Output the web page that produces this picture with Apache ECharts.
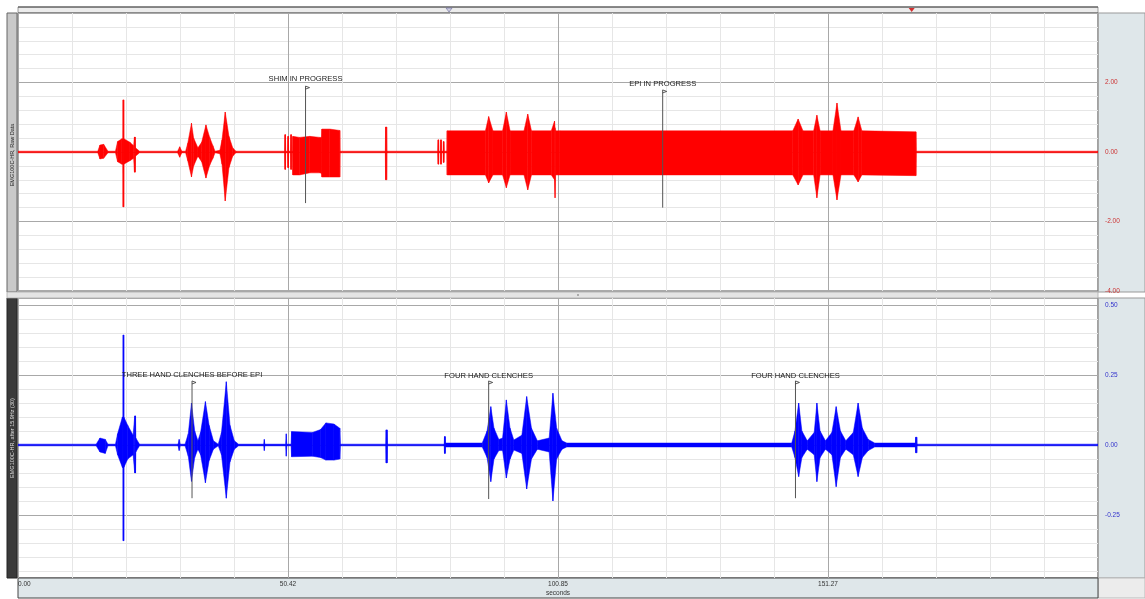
<!DOCTYPE html>
<html><head><meta charset="utf-8">
<script src="https://cdn.jsdelivr.net/npm/echarts@6/dist/echarts.min.js"></script>
<style>html,body{margin:0;padding:0;background:#fff}#c{width:1145px;height:599px}</style>
</head><body><div id="c"></div>
<script>
// ---------- DATA (seconds, envelope high, envelope low) ----------
const rawSamples = [
 [0,.02,-.02],[14.9,.02,-.02],[15.3,.2,-.2],[16.0,.22,-.18],[16.8,.02,-.02],
 [18.2,.02,-.02],[18.6,.3,-.28],[19.4,.38,-.35],[19.6,.38,-.35],[19.62,1.5,-1.58],[19.75,1.5,-1.58],[19.77,.38,-.35],
 [20.9,.28,-.25],[21.6,.18,-.18],[21.75,.43,-.58],[21.9,.43,-.58],[21.95,.12,-.12],[22.7,.02,-.02],
 [29.8,.02,-.02],[30.2,.15,-.15],[30.6,.02,-.02],
 [31.3,.02,-.02],[31.7,.25,-.25],[32.4,.83,-.72],[32.8,.4,-.4],[33.6,.12,-.12],
 [34.3,.28,-.28],[35.1,.78,-.75],[35.8,.42,-.38],[36.4,.18,-.18],[36.8,.02,-.02],
 [37.7,.05,-.05],[38.1,.35,-.35],[38.7,1.15,-1.41],[39.4,.45,-.45],[40.1,.12,-.12],[40.7,.02,-.02],
 [49.8,.02,-.02],[49.85,.5,-.5],[49.95,.5,-.5],[50.0,.02,-.02],[50.35,.02,-.02],[50.4,.45,-.45],[50.5,.45,-.45],[50.55,.02,-.02],
 [50.9,.02,-.02],[50.95,.5,-.5],[51.05,.5,-.5],[51.1,.02,-.02],[51.3,.02,-.02],
 [51.32,.45,-.66],[52.6,.42,-.66],[54.5,.45,-.6],[56.4,.42,-.6],[56.7,.42,-.62],[56.75,.66,-.72],[58.2,.66,-.72],[60.1,.62,-.72],[60.15,.02,-.02],
 [68.6,.02,-.02],[68.65,.72,-.8],[68.85,.72,-.8],[68.9,.02,-.02],
 [78.4,.02,-.02],[78.45,.35,-.35],[78.55,.35,-.35],[78.6,.02,-.02],[78.9,.02,-.02],[78.95,.35,-.35],[79.05,.35,-.35],[79.1,.02,-.02],
 [79.4,.02,-.02],[79.45,.3,-.3],[79.55,.3,-.3],[79.6,.02,-.02],[80.1,.02,-.02],
 [80.15,.61,-.66],[87.3,.61,-.66],[87.9,1.02,-.89],[88.7,.61,-.66],[90.5,.61,-.66],[91.2,1.15,-1.03],[91.9,.61,-.66],
 [94.5,.61,-.66],[95.2,1.09,-1.09],[95.9,.61,-.66],[99.6,.61,-.66],[100.2,.89,-.8],[100.3,.7,-1.32],[100.4,.61,-.66],
 [101.2,.61,-.66],[144.7,.61,-.66],[145.7,.95,-.95],[146.6,.61,-.66],[148.6,.61,-.66],[149.2,1.06,-1.32],[149.8,.61,-.66],
 [152.2,.61,-.66],[152.95,1.41,-1.38],[153.7,.61,-.66],[156.1,.61,-.66],[156.9,1.01,-.86],[157.6,.61,-.66],
 [167.7,.58,-.68],[167.75,.02,-.02],[201.7,.02,-.02]
];
const filtSamples = [
 [0,.003,-.003],[14.6,.003,-.003],[15.3,.025,-.025],[16.3,.02,-.03],[16.8,.003,-.003],
 [18.2,.003,-.003],[18.6,.04,-.035],[19.5,.1,-.08],[19.62,.1,-.08],[19.64,.393,-.342],[19.75,.393,-.342],[19.77,.1,-.08],
 [20.5,.07,-.05],[21.5,.035,-.035],[21.8,.104,-.1],[21.95,.104,-.1],[22.0,.025,-.025],[22.7,.003,-.003],
 [29.9,.003,-.003],[30.1,.02,-.02],[30.3,.003,-.003],
 [31.2,.003,-.003],[31.8,.04,-.04],[32.4,.15,-.13],[33.0,.05,-.045],[33.6,.015,-.015],
 [34.1,.045,-.035],[35.0,.155,-.135],[35.7,.07,-.055],[36.5,.015,-.015],[37.4,.003,-.003],
 [38.0,.045,-.035],[38.9,.226,-.19],[39.6,.07,-.06],[40.4,.015,-.015],[41.2,.003,-.003],
 [45.9,.003,-.003],[46.0,.02,-.02],[46.1,.003,-.003],[50.0,.003,-.003],[50.1,.04,-.04],[50.2,.003,-.003],
 [51.0,.003,-.003],[51.1,.048,-.042],[55.0,.045,-.04],[56.5,.055,-.045],[57.5,.079,-.054],[59.0,.075,-.054],[60.1,.06,-.05],[60.2,.003,-.003],
 [68.7,.003,-.003],[68.75,.054,-.064],[68.95,.054,-.064],[69.0,.003,-.003],
 [79.6,.003,-.003],[79.65,.03,-.03],[79.8,.03,-.03],[79.85,.007,-.007],
 [86.7,.007,-.007],[87.6,.05,-.045],[88.3,.137,-.131],[88.9,.06,-.05],[89.8,.02,-.02],
 [90.5,.025,-.02],[91.2,.161,-.118],[91.9,.06,-.05],[92.6,.018,-.018],
 [94.1,.035,-.03],[95.0,.173,-.157],[95.9,.06,-.05],[97.0,.015,-.015],
 [99.2,.025,-.025],[99.9,.185,-.2],[100.6,.06,-.05],[101.6,.015,-.015],[102.5,.007,-.007],
 [144.5,.007,-.007],[145.1,.05,-.045],[145.8,.15,-.113],[146.4,.05,-.045],[147.4,.015,-.015],
 [148.7,.045,-.035],[149.2,.15,-.131],[149.8,.05,-.045],[150.8,.015,-.015],
 [152.0,.045,-.035],[152.8,.137,-.149],[153.6,.05,-.045],[154.6,.015,-.015],
 [156.0,.045,-.035],[156.9,.15,-.113],[157.7,.06,-.045],[158.8,.02,-.02],[160.0,.007,-.007],
 [167.6,.007,-.007],[167.65,.028,-.028],[167.85,.028,-.028],[167.9,.003,-.003],[201.7,.003,-.003]
];
// annotations: time, text level, flag level, line end level
const topNoteT = [53.7, 120.4];
const topNoteText = ['SHIM IN PROGRESS', 'EPI IN PROGRESS'];
const topNoteTextY = [2.10, 1.96];
const topNoteFlagY = [1.81, 1.70];
const topNoteEndY = [-1.47, -1.60];
const botNoteT = [32.5, 87.9, 145.2];
const botNoteText = ['THREE HAND CLENCHES BEFORE EPI', 'FOUR HAND CLENCHES', 'FOUR HAND CLENCHES'];
const botNoteTextY = [0.25, 0.247, 0.247];
const botNoteFlagY = [0.218, 0.218, 0.218];
const botNoteEndY = [-0.19, -0.193, -0.19];
// event triangles on top strip
const eventT = [80.5, 166.9];
// ticks
const xTickValues = [0, 50.425, 100.85, 151.275];
const xTickLabels = ['0.00', '50.42', '100.85', '151.27'];
const topTickValues = [-4, -2, 0, 2];
const topTickLabels = ['-4.00', '-2.00', '0.00', '2.00'];
const botTickValues = [-0.25, 0, 0.25, 0.5];
const botTickLabels = ['-0.25', '0.00', '0.25', '0.50'];
const leftTitles = ['EMG100C-HR, Raw Data', 'EMG100C-HR, after 15.9Hz (30)'];

// ---------- CHART ----------
const FONT = 'Liberation Sans, Arial, sans-serif';
const chart = echarts.init(document.getElementById('c'), null, {renderer: 'canvas'});
const MAJ = '#a8a8a8', MIN = '#e6e6e6', T = 'rgba(0,0,0,0)';

function lookup(vals, labels, v) {
  for (let k = 0; k < vals.length; k++) if (Math.abs(vals[k] - v) < 1e-4) return labels[k];
  return '';
}
function envRender(samples, color) {
  return function (params, api) {
    const i = params.dataIndex;
    if (i >= samples.length - 1) return null;
    const s0 = samples[i], s1 = samples[i + 1];
    const a1 = api.coord([s0[0], s0[1]]), b1 = api.coord([s0[0], s0[2]]);
    const a2 = api.coord([s1[0], s1[1]]), b2 = api.coord([s1[0], s1[2]]);
    [[a1, b1], [a2, b2]].forEach(([a, b]) => {
      if (b[1] - a[1] < 1.6) { const m = (a[1] + b[1]) / 2; a[1] = m - 0.8; b[1] = m + 0.8; }
    });
    return {type: 'polygon', shape: {points: [a1, a2, b2, b1]},
      style: {fill: color, stroke: color, lineWidth: 0.5}};
  };
}
function noteRender(T_, txt, ty, fy, ey) {
  return function (params, api) {
    const i = params.dataIndex;
    const p = api.coord([T_[i], ty[i]]);
    const f = api.coord([T_[i], fy[i]]);
    const e = api.coord([T_[i], ey[i]]);
    return {type: 'group', children: [
      {type: 'text', x: p[0], y: p[1], style: {text: txt[i], font: '7.6px ' + FONT, fill: '#222', align: 'center', verticalAlign: 'middle'}},
      {type: 'line', shape: {x1: f[0], y1: f[1] - 3, x2: e[0], y2: e[1]}, style: {stroke: '#555', lineWidth: 1}},
      {type: 'polyline', shape: {points: [[f[0], f[1] - 3], [f[0] + 4, f[1] - 1.5], [f[0], f[1]]]}, style: {stroke: '#333', lineWidth: 0.8, fill: null}}
    ]};
  };
}
const xCommon = {
  type: 'value', min: 0, max: 201.7, interval: 10.085,
  axisLine: {show: false}, axisTick: {show: false},
  splitLine: {show: true, lineStyle: {color: [MAJ, MIN, MIN, MIN, MIN], width: 1}}
};
const option = {
  animation: false,
  backgroundColor: '#fff',
  textStyle: {fontFamily: FONT},
  grid: [
    {left: 18, right: 47, top: 13, height: 278, show: true, backgroundColor: '#fff', borderColor: '#555', borderWidth: 1},
    {left: 18, right: 47, top: 298, height: 280, show: true, backgroundColor: '#fff', borderColor: '#555', borderWidth: 1}
  ],
  xAxis: [
    Object.assign({gridIndex: 0, axisLabel: {show: false}}, xCommon),
    Object.assign({gridIndex: 1,
      name: 'seconds', nameLocation: 'middle', nameGap: 12,
      nameTextStyle: {fontSize: 6.5, color: '#333', fontFamily: FONT},
      axisLabel: {show: true, margin: 3, fontSize: 6.5, color: '#333', fontFamily: FONT,
        showMinLabel: true, showMaxLabel: true, alignMinLabel: 'left',
        formatter: v => lookup(xTickValues, xTickLabels, v)}}, xCommon)
  ],
  yAxis: [
    {type: 'value', gridIndex: 0, position: 'right', min: -4, max: 4, interval: 0.4,
      axisLine: {show: false}, axisTick: {show: false},
      axisLabel: {margin: 7, fontSize: 6.5, color: '#cc3333', align: 'left', fontFamily: FONT,
        showMinLabel: true, formatter: v => lookup(topTickValues, topTickLabels, v)},
      splitLine: {show: true, lineStyle: {color: [MAJ, MIN, MIN, MIN, MIN], width: 1}}},
    {type: 'value', gridIndex: 1, position: 'right', min: -0.475, max: 0.525, interval: 0.025,
      axisLine: {show: false}, axisTick: {show: false},
      axisLabel: {margin: 7, fontSize: 6.5, color: '#3333cc', align: 'left', fontFamily: FONT,
        formatter: v => lookup(botTickValues, botTickLabels, v)},
      splitLine: {show: true, lineStyle: {color: [T, MIN, T, MIN, T, MIN, T, MIN, T, MAJ], width: 1}}}
  ],
  series: [
    {type: 'custom', xAxisIndex: 0, yAxisIndex: 0, clip: true, z: 3,
      renderItem: envRender(rawSamples, '#ff0000'), data: rawSamples, encode: {x: 0, y: [1, 2]}},
    {type: 'custom', xAxisIndex: 1, yAxisIndex: 1, clip: true, z: 3,
      renderItem: envRender(filtSamples, '#0000ff'), data: filtSamples, encode: {x: 0, y: [1, 2]}},
    {type: 'custom', xAxisIndex: 0, yAxisIndex: 0, z: 5,
      renderItem: noteRender(topNoteT, topNoteText, topNoteTextY, topNoteFlagY, topNoteEndY),
      data: topNoteT.map((t, i) => [t, topNoteTextY[i]])},
    {type: 'custom', xAxisIndex: 1, yAxisIndex: 1, z: 5,
      renderItem: noteRender(botNoteT, botNoteText, botNoteTextY, botNoteFlagY, botNoteEndY),
      data: botNoteT.map((t, i) => [t, botNoteTextY[i]])},
    {type: 'scatter', xAxisIndex: 0, yAxisIndex: 0, clip: false, z: 6,
      symbol: 'triangle', symbolRotate: 180, symbolSize: [6, 4], symbolOffset: [0, -3],
      data: [
        {value: [eventT[0], 4], itemStyle: {color: '#c8c8e0', borderColor: '#7070a0', borderWidth: 0.8}},
        {value: [eventT[1], 4], itemStyle: {color: '#cc0000'}}
      ]}
  ],
  graphic: [
    {type: 'rect', z: -1, shape: {x: 18, y: 7, width: 1080, height: 6}, style: {fill: '#ececec', stroke: '#888', lineWidth: 0.8}},
    {type: 'line', z: 0, shape: {x1: 18, y1: 7, x2: 1098, y2: 7}, style: {stroke: '#444', lineWidth: 1}},
    {type: 'rect', z: 0, shape: {x: 7, y: 13, width: 10, height: 279}, style: {fill: '#c9c9c9', stroke: '#666', lineWidth: 1}},
    {type: 'rect', z: 0, shape: {x: 7, y: 298, width: 10, height: 280}, style: {fill: '#3a3a3a', stroke: '#222', lineWidth: 1}},
    {type: 'rect', z: 0, shape: {x: 1098, y: 13, width: 47, height: 279}, style: {fill: '#dfe7ea', stroke: '#999', lineWidth: 1}},
    {type: 'rect', z: 0, shape: {x: 1098, y: 298, width: 47, height: 280}, style: {fill: '#dfe7ea', stroke: '#999', lineWidth: 1}},
    {type: 'rect', z: 0, shape: {x: 1098, y: 578, width: 47, height: 20}, style: {fill: '#ececec', stroke: '#bbb', lineWidth: 1}},
    {type: 'rect', z: 0, shape: {x: 7, y: 292, width: 1091, height: 6}, style: {fill: '#e4e4e4', stroke: '#aaa', lineWidth: 0.8}},
    {type: 'circle', z: 1, shape: {cx: 578, cy: 295, r: 1}, style: {fill: '#999'}},
    {type: 'rect', z: 0, shape: {x: 18, y: 578, width: 1080, height: 20}, style: {fill: '#dfe7ea', stroke: '#444', lineWidth: 1}},
    {type: 'text', z: 2, x: 12, y: 155, rotation: Math.PI / 2,
      style: {text: leftTitles[0], font: '5.5px ' + FONT, fill: '#222', align: 'center', verticalAlign: 'middle'}},
    {type: 'text', z: 2, x: 12, y: 438, rotation: Math.PI / 2,
      style: {text: leftTitles[1], font: '5.5px ' + FONT, fill: '#ddd', align: 'center', verticalAlign: 'middle'}}
  ]
};
chart.setOption(option);
</script>
</body></html>
